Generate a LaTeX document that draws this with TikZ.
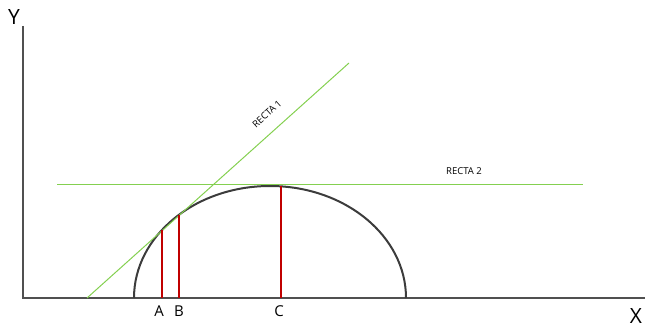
\documentclass[tikz,border=0pt]{standalone}
\usepackage{fontspec}
\setmainfont{Open Sans}
\definecolor{ejegris}{HTML}{505050}
\definecolor{curvagris}{HTML}{3C3C3C}
\definecolor{rectaverde}{HTML}{84D050}
\definecolor{rojo}{HTML}{C00000}
\begin{document}
\begin{tikzpicture}[x=1pt,y=-1pt]
  \useasboundingbox (0,0) rectangle (645,328);
  \def\centrox{270}
  \def\piso{298}
  \def\ancho{136}
  \def\alto{112}

  % Ejes
  \coordinate (o) at (23,\piso);
  \coordinate (ytop) at (23,26);
  \coordinate (xend) at (645,\piso);
  \draw[ejegris, line width=1.2pt] (ytop) -- (o) -- (xend);
  \node[font=\fontsize{21}{21}\selectfont] (ylab) at (14,17) {Y};
  \node[font=\fontsize{21}{21}\selectfont] (xlab) at (636,316) {X};

  % Curva (media elipse)
  \draw[curvagris, line width=2pt] (\centrox-\ancho,\piso)
    arc[start angle=180, end angle=360, x radius=\ancho, y radius=\alto];

  % Rectas
  \coordinate (r1a) at (87,\piso);
  \coordinate (r1b) at (349,63);
  \coordinate (r2a) at (57,185);
  \coordinate (r2b) at (583,185);
  \draw[rectaverde, line width=1pt] (r1a) -- (r1b);
  \draw[rectaverde, line width=1pt] (r2a) -- (r2b);
  \node[rotate=42, font=\fontsize{9.5}{9.5}\selectfont] (r1lab) at (267,114) {RECTA 1};
  \node[font=\fontsize{9.5}{9.5}\selectfont] (r2lab) at (464,171) {RECTA 2};

  % Lineas rojas
  \coordinate (ta) at (162,230);
  \coordinate (tb) at (179,215);
  \coordinate (tc) at (281,186);
  \foreach \q in {ta,tb,tc}
    {
      \draw[rojo, line width=1.2pt] (\q) -- (\q |- o);
    }
  \node[font=\fontsize{15}{15}\selectfont] (A) at (159,311) {A};
  \node[font=\fontsize{15}{15}\selectfont] (B) at (179,311) {B};
  \node[font=\fontsize{15}{15}\selectfont] (C) at (279,311) {C};
\end{tikzpicture}
\end{document}
